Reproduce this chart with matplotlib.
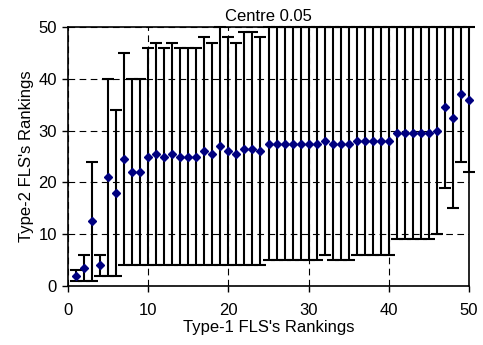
import matplotlib
matplotlib.use("Agg")
import matplotlib.pyplot as plt
import numpy as np

plt.rcParams['font.family'] = ['Liberation Sans', 'DejaVu Sans']

ranks = list(range(1, 51))
means = [2.0, 3.5, 12.5, 4.0, 21.0, 18.0, 24.5, 22.0, 22.0, 25.0,
         25.5, 25.0, 25.5, 25.0, 25.0, 25.0, 26.0, 25.5, 27.0, 26.0,
         25.5, 26.5, 26.5, 26.0, 27.5, 27.5, 27.5, 27.5, 27.5, 27.5,
         27.5, 28.0, 27.5, 27.5, 27.5, 28.0, 28.0, 28.0, 28.0, 28.0,
         29.5, 29.5, 29.5, 29.5, 29.5, 30.0, 34.5, 32.5, 37.0, 36.0]
lower = [1, 1, 1, 2, 2, 2, 4, 4, 4, 4,
         4, 4, 4, 4, 4, 4, 4, 4, 4, 4,
         4, 4, 4, 4, 5, 5, 5, 5, 5, 5,
         5, 6, 5, 5, 5, 6, 6, 6, 6, 6,
         9, 9, 9, 9, 9, 10, 19, 15, 24, 22]
upper = [3, 6, 24, 6, 40, 34, 45, 40, 40, 46,
         47, 46, 47, 46, 46, 46, 48, 47, 50, 48,
         47, 49, 49, 48, 50, 50, 50, 50, 50, 50,
         50, 50, 50, 50, 50, 50, 50, 50, 50, 50,
         50, 50, 50, 50, 50, 50, 50, 50, 50, 50]
title = "Centre 0.05"
xlabel = "Type-1 FLS's Rankings"
ylabel = "Type-2 FLS's Rankings"
xticks = [0, 10, 20, 30, 40, 50]
yticks = [0, 10, 20, 30, 40, 50]

fig = plt.figure(figsize=(4.83, 3.45), dpi=100)
ax = fig.add_axes([68/483, 1-286/345, (469-68)/483, (286-27)/345])

m = np.array(means)
lo = np.array(lower)
hi = np.array(upper)
ax.errorbar(ranks, m, yerr=[m - lo, hi - m], fmt='D', color='#000080',
            markersize=3.8, ecolor='black', elinewidth=1.5, capsize=4,
            capthick=1.5, zorder=3, clip_on=False)

ax.set_xlim(0, 50)
ax.set_ylim(0, 50)
ax.set_xticks(xticks)
ax.set_yticks(yticks)
ax.grid(True, color='black', linestyle=(0, (6, 4)), linewidth=0.8, zorder=0)
ax.set_axisbelow(True)
for s in ax.spines.values():
    s.set_linewidth(1.2)
ax.tick_params(direction='out', length=4, width=1, labelsize=12, colors='black')
ax.tick_params(axis='x', pad=8)
ax.tick_params(axis='y', pad=4)
ax.set_title(title, fontsize=12, pad=4)
ax.set_xlabel(xlabel, fontsize=12, labelpad=2)
ax.set_ylabel(ylabel, fontsize=12, labelpad=3)

fig.savefig("out.png", dpi=100)
